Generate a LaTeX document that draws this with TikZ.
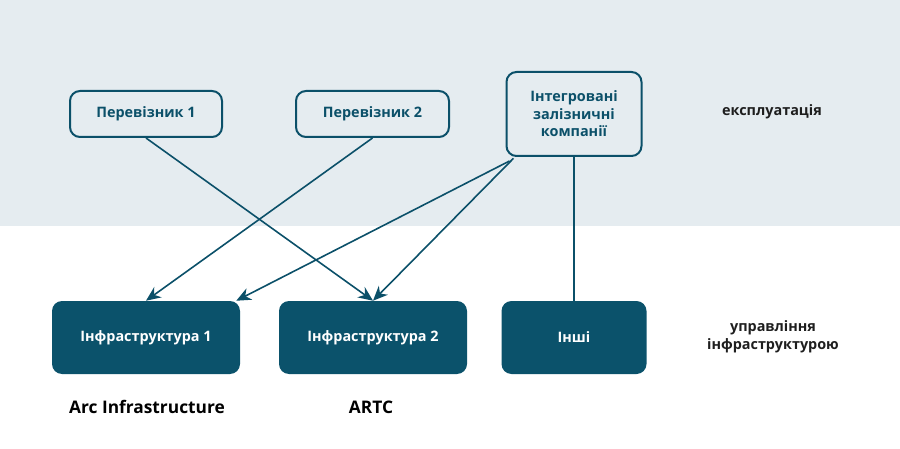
\documentclass[tikz,border=0pt]{standalone}
\usepackage{fontspec}
\setmainfont{Open Sans}
\usepackage{tikz}
\usetikzlibrary{arrows.meta}

\definecolor{tealdark}{RGB}{11,80,105}
\definecolor{tealfill}{RGB}{11,82,107}
\definecolor{bandgray}{RGB}{229,236,240}
\definecolor{labelgray}{RGB}{30,30,30}

\tikzset{
  opbox/.style={draw=tealdark, line width=1.5pt, rounded corners=7.5pt, fill=bandgray,
    text=tealdark, font=\bfseries\fontsize{10.8}{13.2}\selectfont, align=center, inner sep=0.75pt},
  infbox/.style={fill=tealfill, rounded corners=7.5pt, text=white,
    font=\bfseries\fontsize{10.8}{13.2}\selectfont, align=center, minimum height=54.75pt, inner sep=0.75pt},
  sidelabel/.style={text=labelgray, font=\bfseries\fontsize{10.8}{13.2}\selectfont, align=center, inner sep=0.75pt},
  link/.style={draw=tealdark, line width=1.2pt},
  linkarrow/.style={link, -{Stealth[length=11pt,width=9.5pt,inset=3.5pt]}}
}

\begin{document}
\begin{tikzpicture}[x=0.75pt,y=0.75pt,yscale=-1,xscale=1]
    \path (0,0) rectangle (900,449); %set diagram size
    
    %Shape: Rectangle (band)
    \fill [bandgray] (0,0) rectangle (900,226) ;
    
    %Rounded Rect
    \node [opbox, minimum width=114pt, minimum height=34.5pt] (carrier1) at (146,114) {Перевізник 1};
    %Rounded Rect
    \node [opbox, minimum width=114.75pt, minimum height=34.5pt] (carrier2) at (372.5,114) {Перевізник 2};
    %Rounded Rect
    \node [opbox, minimum width=101.25pt, minimum height=63pt] (integrated) at (574,114) {Інтегровані\\залізничні\\компанії};
    
    %Rounded Rect
    \node [infbox, minimum width=141pt] (infra1) at (146,337.5) {Інфраструктура 1};
    %Rounded Rect
    \node [infbox, minimum width=141pt] (infra2) at (373,337.5) {Інфраструктура 2};
    %Rounded Rect
    \node [infbox, minimum width=108.75pt] (others) at (574,337.5) {Інші};
    
    %Straight Lines
    \draw [linkarrow] (carrier1.south) -- (infra2.north) ;
    %Straight Lines
    \draw [linkarrow] (carrier2.south) -- (infra1.north) ;
    %Straight Lines
    \draw [linkarrow] ([xshift=3pt,yshift=3pt]integrated.south west) -- ([xshift=-3pt]infra1.north east) ;
    %Straight Lines
    \draw [linkarrow] ([xshift=6pt,yshift=1pt]integrated.south west) -- (infra2.north) ;
    %Straight Lines
    \draw [link] (integrated.south) -- (others.north) ;
    
    % Text Node
    \node [sidelabel] (operation) at (772,112) {експлуатація};
    % Text Node
    \node [sidelabel] (management) at (773,337) {управління\\інфраструктурою};
    % Text Node
    \node [sidelabel, text=black, font=\bfseries\fontsize{13}{15}\selectfont] (arcname) at (147,407) {Arc Infrastructure};
    % Text Node
    \node [sidelabel, text=black, font=\bfseries\fontsize{13}{15}\selectfont] (artcname) at (371,407) {ARTC};
    
\end{tikzpicture}
\end{document}
